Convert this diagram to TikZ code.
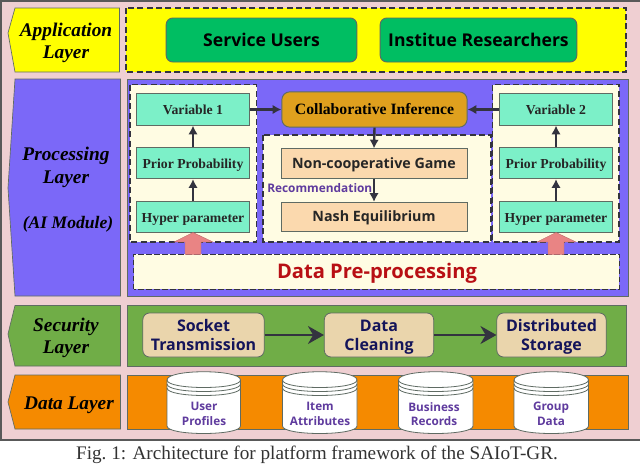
\documentclass[tikz,border=0pt]{standalone}
\usepackage{fontspec}
\setmainfont{Liberation Serif}
\setsansfont{Open Sans}
\usetikzlibrary{arrows.meta}
\definecolor{pinkbg}{HTML}{EFCFD2}
\definecolor{yel}{HTML}{FFFF00}
\definecolor{purp}{HTML}{7B68F8}
\definecolor{grn}{HTML}{70AD47}
\definecolor{org}{HTML}{F58A00}
\definecolor{cream}{HTML}{FFFCE3}
\definecolor{mint}{HTML}{7CF0C8}
\definecolor{gold}{HTML}{DFA01E}
\definecolor{peach}{HTML}{FBD9AE}
\definecolor{tan}{HTML}{EAD5AC}
\definecolor{svc}{HTML}{00BE62}
\definecolor{dark}{HTML}{33333F}
\definecolor{edge}{HTML}{5F6B63}
\definecolor{navy}{HTML}{14145A}
\definecolor{violet}{HTML}{5F3B9E}
\definecolor{redt}{HTML}{B80F14}
\definecolor{salmon}{HTML}{E98484}
\tikzset{
  x=0.75pt,y=-0.75pt,
  lay/.style={font=\fontsize{14.5}{17}\selectfont\bfseries\itshape,align=center,text=black,inner sep=0pt},
  band/.style={draw=edge,line width=0.5pt},
  panel/.style={draw=dark,dashed,line width=0.8pt,dash pattern=on 4.5pt off 2.5pt,fill=cream},
  mintbox/.style={draw=edge,line width=0.7pt,fill=mint,inner sep=0pt,minimum width=85pt,minimum height=23.5pt,text height=8.8pt,text depth=1pt,font=\fontsize{10.3}{12}\selectfont\bfseries,text=black!85},
  peachbox/.style={draw=edge,line width=0.7pt,fill=peach,inner sep=0pt,minimum width=139.5pt,minimum height=22pt,text height=8pt,text depth=1pt,font=\sffamily\fontsize{10.7}{13}\selectfont\bfseries,text=black!85},
  svcbox/.style={draw=edge,line width=0.7pt,fill=svc,rounded corners=5pt,inner sep=0pt,minimum height=33pt,text height=10pt,text depth=1pt,font=\sffamily\fontsize{13.2}{16}\selectfont\bfseries,text=black},
  tanbox/.style={draw=edge,line width=0.6pt,fill=tan,rounded corners=5pt,inner sep=0pt,minimum height=33pt,text height=22.5pt,text depth=0pt,align=center,font=\sffamily\fontsize{12}{13.8}\selectfont\bfseries,text=navy},
  arr/.style={draw=dark,line width=1.8pt,-{Latex[length=6.5pt,width=7pt]}},
  bigarr/.style={draw=dark,line width=1.7pt,-{Stealth[length=12pt,width=13.5pt]}},
  dbtext/.style={font=\sffamily\fontsize{8.8}{11}\selectfont\bfseries,text=violet,align=center,inner sep=0pt},
}
\newcommand{\cyl}[3]{%
  \draw[draw=edge,line width=0.6pt,fill=white]
    (#1,380) -- (#1,426) .. controls (#1,436) and (#2,436) .. (#2,426) -- (#2,380)
    .. controls (#2,369) and (#1,369) .. (#1,380) -- cycle;
  \draw[draw=edge,line width=0.6pt] (#1,380) .. controls (#1,390) and (#2,390) .. (#2,380);
  \draw[draw=edge,line width=0.6pt] (#1,384) .. controls (#1,394) and (#2,394) .. (#2,384);
  \draw[draw=edge,line width=0.6pt] (#1,388) .. controls (#1,398) and (#2,398) .. (#2,388);
}
\begin{document}
\begin{tikzpicture}
\useasboundingbox (0,0) rectangle (640,464);
\clip (0,0) rectangle (640,464);
\fill[white] (0,0) rectangle (640,464);
\draw[draw=black!65,line width=1pt,fill=pinkbg] (1,1) rectangle (645,440);
% layer labels
\draw[band,fill=yel] (8,33) -- (15,8) -- (119.5,8) -- (119.5,72) -- (15,72) -- cycle;
\node[lay] (appL) at (66,43) {Application\\Layer};
\draw[band,fill=purp] (8,188) -- (15,79) -- (120.5,79) -- (120.5,296) -- (15,296) -- cycle;
\node[lay] (procL) at (66,167.5) {Processing\\Layer};
\node[lay,font=\fontsize{13.2}{16}\selectfont\bfseries\itshape] (aiL) at (68,224) {(AI Module)};
\draw[band,fill=grn] (8,334) -- (15,305.5) -- (120.5,305.5) -- (120.5,366) -- (15,366) -- cycle;
\node[lay] (secL) at (66,338) {Security\\Layer};
\draw[band,fill=org] (8,402) -- (15,375) -- (120.5,375) -- (120.5,429) -- (15,429) -- cycle;
\node[lay] (dataL) at (69,405) {Data Layer};
% application band
\draw[panel,fill=yel] (126,8) rectangle (626,72);
\node[svcbox,minimum width=143pt] (su) at (261.5,40) {Service Users};
\node[svcbox,minimum width=147.5pt] (ir) at (478.5,40) {Institue Researchers};
% processing band
\draw[band,fill=purp] (127.5,79) rectangle (628,296);
\draw[panel] (130,84.5) rectangle (256.5,242);
\draw[panel] (263,135) rectangle (491,242);
\draw[panel] (492.5,84.5) rectangle (619,242);
\node[mintbox] (v1) at (193,109.5) {Variable 1};
\node[mintbox] (p1) at (193,163) {Prior Probability};
\node[mintbox] (h1) at (193,217) {Hyper parameter};
\node[mintbox] (v2) at (556,109.5) {Variable 2};
\node[mintbox] (p2) at (556,163) {Prior Probability};
\node[mintbox] (h2) at (556,217) {Hyper parameter};
\node[draw=edge,line width=0.7pt,fill=gold,rounded corners=6pt,inner sep=0pt,minimum width=139pt,minimum height=26.5pt,text height=9.2pt,text depth=1pt,font=\fontsize{11.8}{13}\selectfont\bfseries,text=black] (ci) at (374.5,109.5) {Collaborative Inference};
\node[peachbox] (ng) at (374,163.5) {Non-cooperative Game};
\node[peachbox] (ne) at (374,217) {Nash Equilibrium};
\node[font=\sffamily\fontsize{8.9}{10}\selectfont\bfseries,text=violet,inner sep=0pt,anchor=west] (rec) at (267,188) {Recommendation};
\node[draw=none,fill=cream,inner sep=0pt,minimum width=364pt,minimum height=26pt] (dp) at (376.5,271.5) {};
\draw[draw=dark,dashed,line width=0.5pt,dash pattern=on 4pt off 2pt] (dp.south west) rectangle (dp.north east);
\node[font=\sffamily\fontsize{15.1}{17}\selectfont\bfseries,text=redt,inner sep=0pt,text height=11.5pt,text depth=1pt] (dpt) at (377,271.5) {Data Pre-processing};
% arrows within processing
\draw[arr] (h1) -- (p1);
\draw[arr] (p1) -- (v1);
\draw[arr] (h2) -- (p2);
\draw[arr] (p2) -- (v2);
\draw[arr] (v1) -- (ci);
\draw[arr] (v2) -- (ci);
\draw[arr] (ci.south) -- (ng.north);
\draw[arr] (ng) -- (ne);
% pink arrows
\draw[draw=salmon!80!black,line width=0.3pt,fill=salmon] (193,232.5) -- (213,242) -- (201,242) -- (201,254.5) -- (185,254.5) -- (185,242) -- (174,242) -- cycle;
\draw[draw=salmon!80!black,line width=0.3pt,fill=salmon] (556,232.5) -- (576,242) -- (564,242) -- (564,254.5) -- (548,254.5) -- (548,242) -- (537,242) -- cycle;
% security band
\draw[band,fill=grn] (127,305.5) rectangle (626.5,366);
\node[tanbox,minimum width=91pt] (st) at (203.5,335) {Socket\\Transmission};
\node[tanbox,minimum width=82pt] (dc) at (379,335) {Data\\Cleaning};
\node[tanbox,minimum width=82pt] (ds) at (551.5,335) {Distributed\\Storage};
\draw[bigarr] (st) -- (dc);
\draw[bigarr] (dc) -- (ds);
% data band
\draw[band,fill=org] (127.5,375) rectangle (628,429);
\cyl{167}{240.5}{c1}
\cyl{282.5}{357}{c2}
\cyl{398.5}{473}{c3}
\cyl{514}{588.5}{c4}
\node[dbtext] (d1) at (204,414) {User\\Profiles};
\node[dbtext] (d2) at (320,414) {Item\\Attributes};
\node[dbtext] (d3) at (434,414) {Business\\Records};
\node[dbtext] (d4) at (551,414) {Group\\Data};
% caption
\node[font=\fontsize{14.4}{16}\selectfont,text=black!80,inner sep=0pt,anchor=base] (cap) at (317,459.5) {Fig.\ 1: Architecture for platform framework of the SAIoT-GR.};
\end{tikzpicture}
\end{document}
